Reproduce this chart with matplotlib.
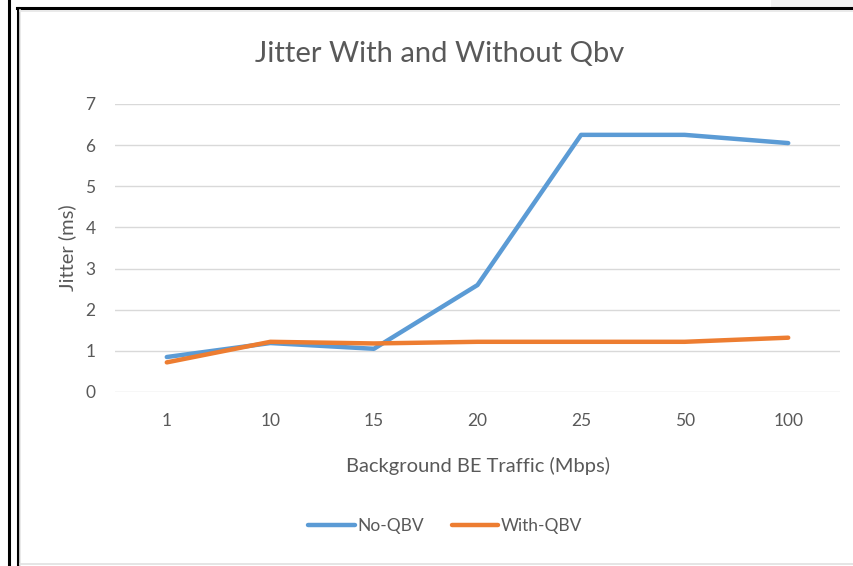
import matplotlib
matplotlib.use("Agg")
import matplotlib.pyplot as plt
from matplotlib.lines import Line2D
from matplotlib.patches import Rectangle

categories = ["1", "10", "15", "20", "25", "50", "100"]
no_qbv = [0.85, 1.19, 1.05, 2.60, 6.25, 6.25, 6.05]
with_qbv = [0.72, 1.22, 1.18, 1.22, 1.22, 1.22, 1.32]
yticks = [0, 1, 2, 3, 4, 5, 6, 7]

plt.rcParams['font.family'] = ['Lato', 'DejaVu Sans']
W, H = 854, 566
fig = plt.figure(figsize=(W / 100, H / 100), dpi=100)
fig.patch.set_facecolor('white')

def fx(px):
    return px / W

def fy(py):
    return 1 - py / H

# decorative borders
fig.add_artist(Rectangle((fx(771), fy(7)), fx(83), 7 / H, transform=fig.transFigure,
                         facecolor='#f2f2f2', edgecolor='none'))
fig.add_artist(Line2D([fx(9), fx(9)], [0, 1], transform=fig.transFigure, color='black', lw=2.2))
fig.add_artist(Line2D([fx(18), fx(18)], [0, fy(8)], transform=fig.transFigure, color='black', lw=2.2))
fig.add_artist(Line2D([fx(17), 1], [fy(8), fy(8)], transform=fig.transFigure, color='black', lw=2.2))
fig.add_artist(Line2D([fx(20), 1], [fy(10.5), fy(10.5)], transform=fig.transFigure, color='#e6e6e6', lw=1.2))
fig.add_artist(Line2D([fx(20.5), fx(20.5)], [0, fy(10)], transform=fig.transFigure, color='#e6e6e6', lw=1.2))
fig.add_artist(Line2D([fx(20), 1], [fy(564), fy(564)], transform=fig.transFigure, color='#e0e0e0', lw=1.2))

ax = fig.add_axes([fx(115), fy(392), fx(840 - 115), (392 - 104) / H])
x = list(range(len(categories)))
ax.plot(x, no_qbv, color='#5b9bd5', lw=3.2, solid_capstyle='round', label='No-QBV', zorder=3)
ax.plot(x, with_qbv, color='#ed7d31', lw=3.2, solid_capstyle='round', label='With-QBV', zorder=4)

ax.set_xlim(-0.5, len(categories) - 0.5)
ax.set_ylim(0, 7)
ax.set_yticks(yticks)
ax.set_yticklabels([str(t) for t in yticks])
ax.set_xticks(x)
ax.set_xticklabels(categories)
ax.grid(axis='y', color='#d9d9d9', lw=1)
ax.set_axisbelow(True)
for s in ax.spines.values():
    s.set_visible(False)
ax.tick_params(axis='both', length=0, labelsize=12.5, colors='#595959')
ax.tick_params(axis='y', pad=14)
ax.tick_params(axis='x', pad=15)

ax.set_xlabel('Background BE Traffic (Mbps)', fontsize=14.5, color='#595959', labelpad=20)
ax.set_ylabel('Jitter (ms)', fontsize=14.5, color='#595959', labelpad=7)

fig.text(fx(440), fy(54), 'Jitter With and Without Qbv', ha='center', va='center',
         fontsize=21, color='#595959')

leg = fig.legend(handles=ax.get_lines(), loc='center', bbox_to_anchor=(fx(445), fy(526)),
                 ncol=2, frameon=False, fontsize=12.5, handlelength=2.7, columnspacing=1.6,
                 handletextpad=0.15)
for t in leg.get_texts():
    t.set_color('#595959')

fig.savefig('out.png', dpi=100, facecolor='white')
